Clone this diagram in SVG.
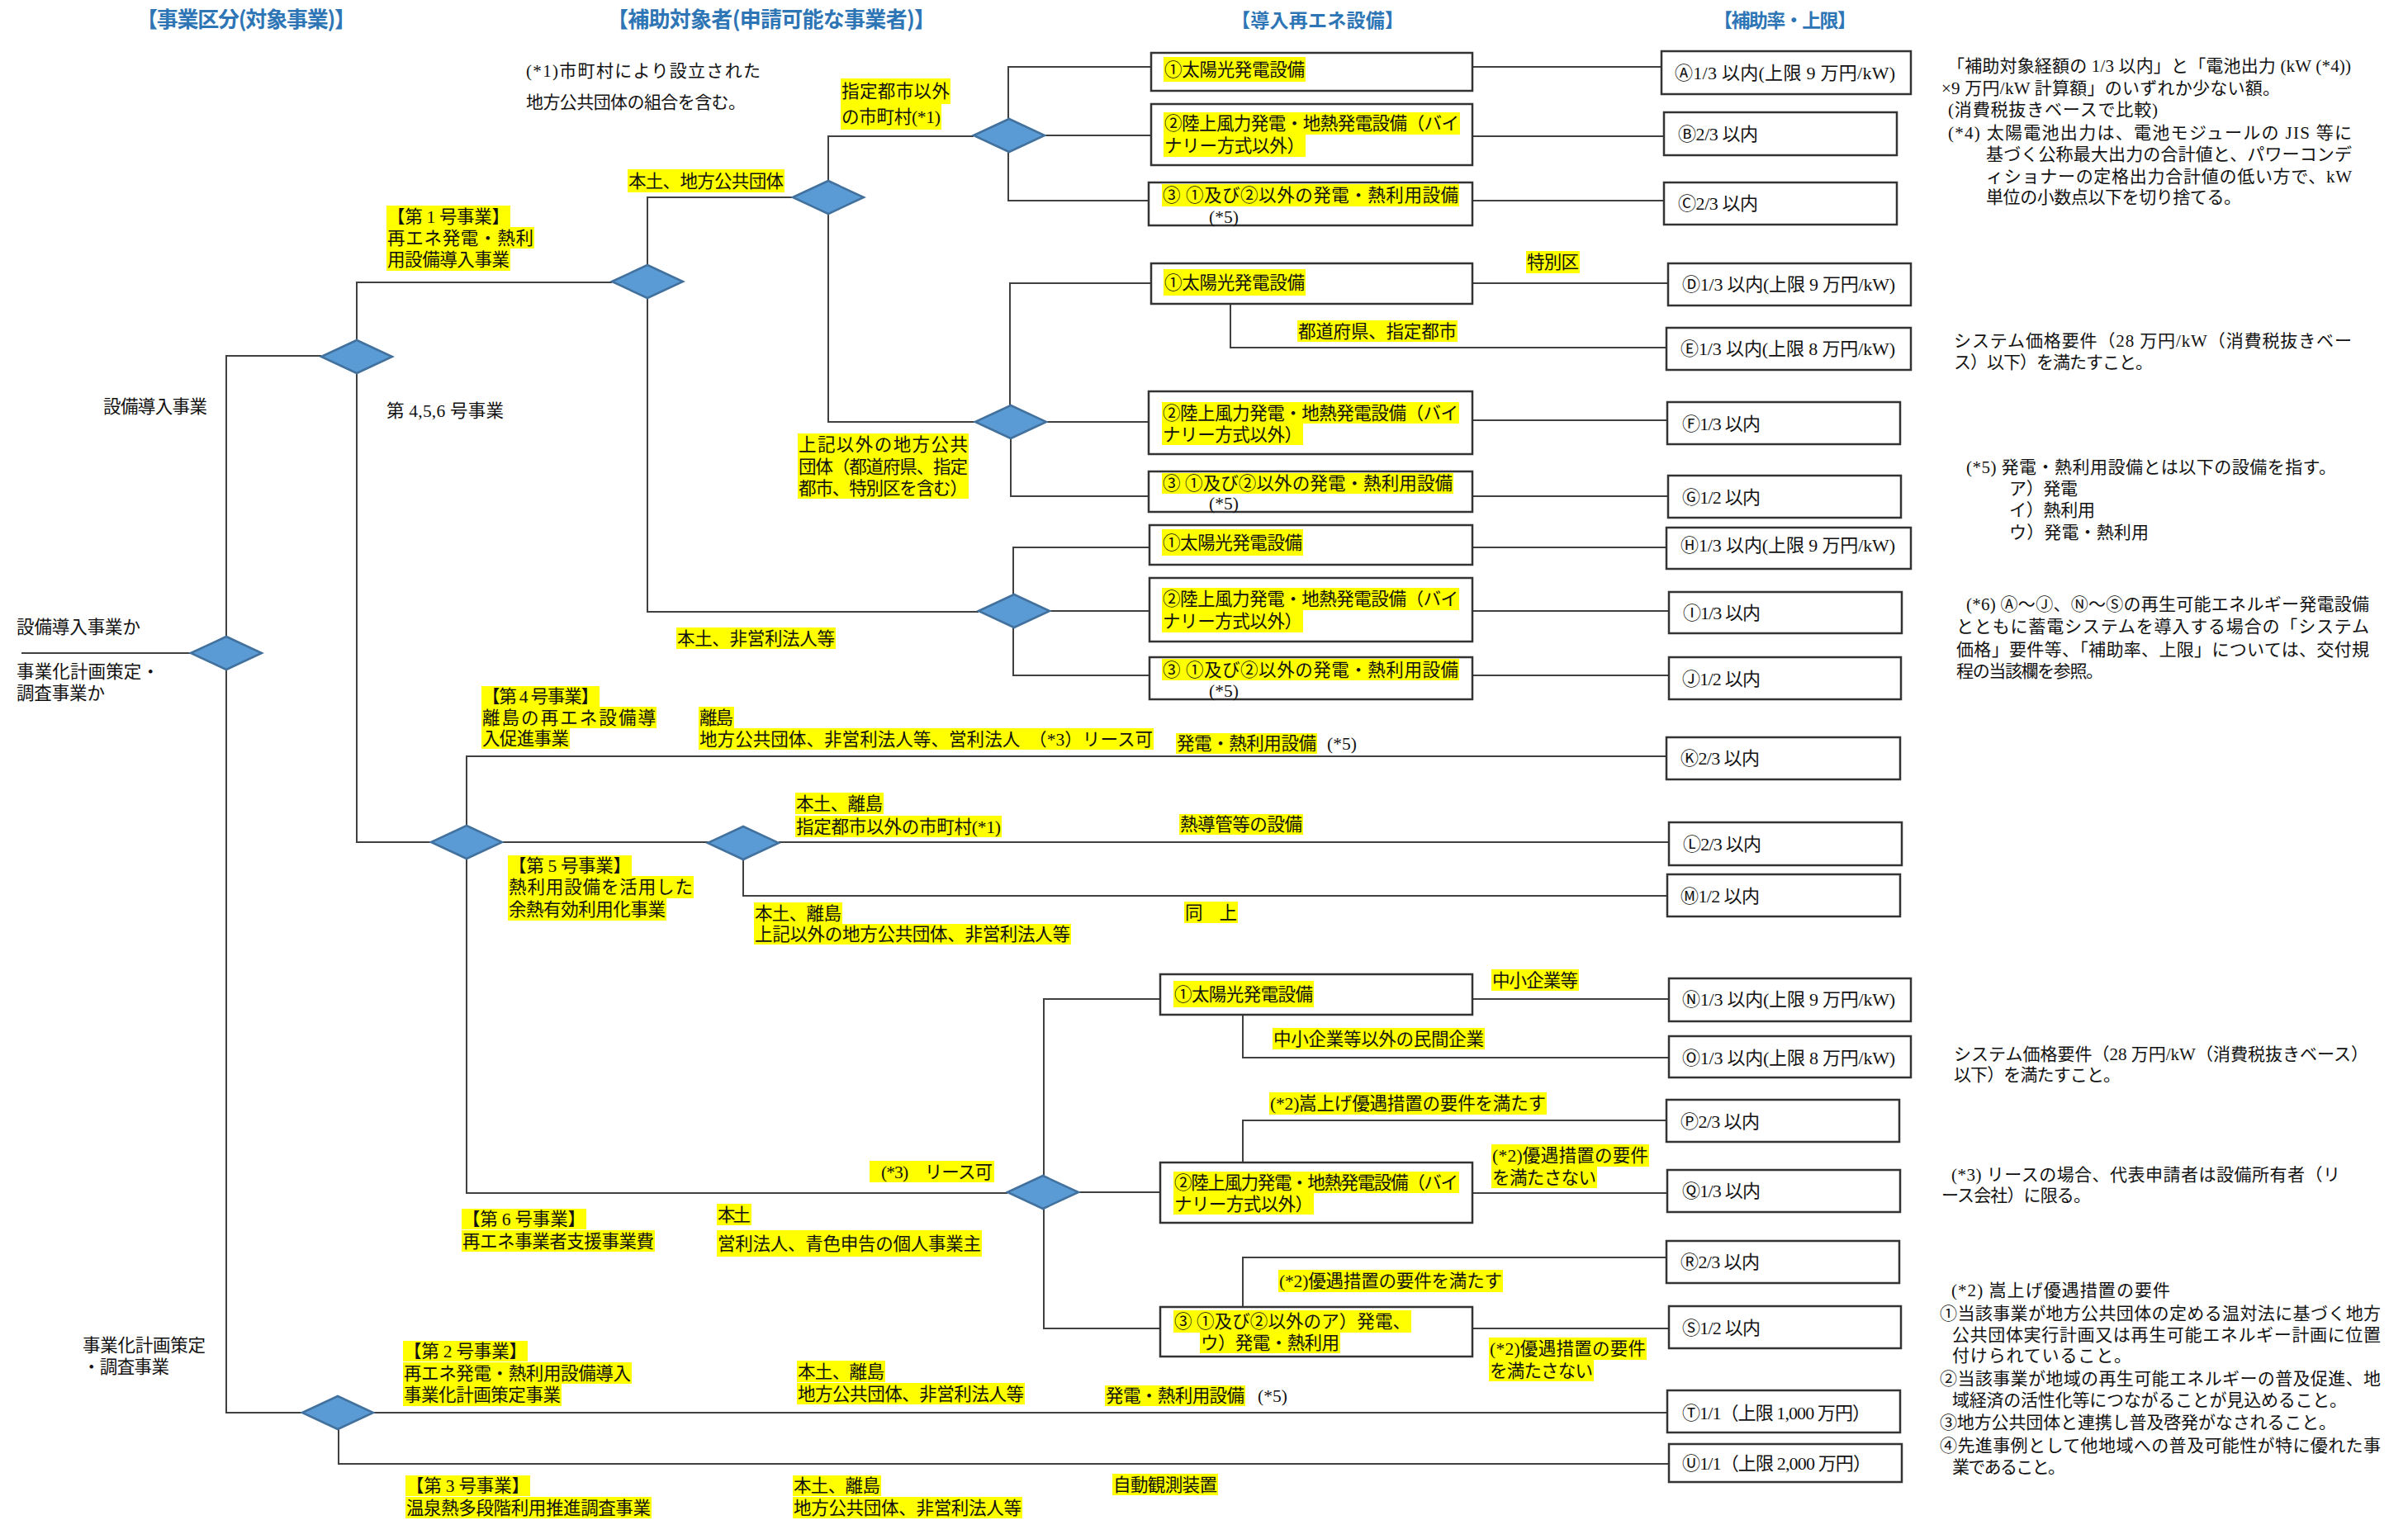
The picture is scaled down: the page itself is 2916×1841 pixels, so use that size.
<svg xmlns="http://www.w3.org/2000/svg" xmlns:xlink="http://www.w3.org/1999/xlink" width="2916" height="1841" viewBox="0 0 2916 1841">
<style>
text{font-family:"Liberation Serif","Noto Sans CJK JP",serif;font-size:21.5px;fill:#111}
.n{font-size:21px}
.b{font-size:22px}
.ttl{font-family:"Noto Sans CJK JP","Liberation Sans",sans-serif;font-weight:bold;font-size:26px;fill:#2E75B6}
.ttl2{font-size:23px}
.h{fill:#FFFF00}
.ln{fill:none;stroke:#404040;stroke-width:2}
.bx{fill:#fff;stroke:#333;stroke-width:2.5}
.dm{fill:#5B9BD5;stroke:#41719C;stroke-width:2.5}
</style>
<defs>
<path id="dia" class="dm" d="M-43 0 L0 -20 L43 0 L0 20 Z"/>
</defs>
<rect width="2916" height="1841" fill="#fff"/>

<g id="titles">
<text class="ttl" x="165" y="33" textLength="266">【事業区分(対象事業)】</text>
<text class="ttl" x="735" y="33" textLength="398">【補助対象者(申請可能な事業者)】</text>
<text class="ttl ttl2" x="1491" y="33" textLength="209">【導入再エネ設備】</text>
<text class="ttl ttl2" x="2075" y="33" textLength="173">【補助率・上限】</text>
</g>

<g id="connectors">
<path class="ln" d="M26 791 H231"/>
<path class="ln" d="M274 771 V431 H389"/>
<path class="ln" d="M274 811 V1711 H366"/>
<path class="ln" d="M432 412 V342 H741"/>
<path class="ln" d="M432 452 V1020 H522"/>
<path class="ln" d="M784 321 V239 H960"/>
<path class="ln" d="M784 361 V741 H1185"/>
<path class="ln" d="M1003 219 V165 H1179"/>
<path class="ln" d="M1003 259 V511 H1181"/>
<path class="ln" d="M1221 145 V81 H1394"/>
<path class="ln" d="M1265 164 H1394"/>
<path class="ln" d="M1221 184 V243 H1391"/>
<path class="ln" d="M1223 492 V343 H1394"/>
<path class="ln" d="M1267 511 H1391"/>
<path class="ln" d="M1224 531 V601 H1391"/>
<path class="ln" d="M1227 720 V663 H1392"/>
<path class="ln" d="M1271 740 H1392"/>
<path class="ln" d="M1227 760 V818 H1392"/>
<path class="ln" d="M1783 81 H2012"/>
<path class="ln" d="M1783 165 H2015"/>
<path class="ln" d="M1783 243 H2015"/>
<path class="ln" d="M1783 343 H2020"/>
<path class="ln" d="M1490 369 V421 H2018"/>
<path class="ln" d="M1783 509 H2019"/>
<path class="ln" d="M1783 601 H2020"/>
<path class="ln" d="M1783 663 H2018"/>
<path class="ln" d="M1783 740 H2021"/>
<path class="ln" d="M1783 818 H2021"/>
<path class="ln" d="M565 1000 V916 H2018"/>
<path class="ln" d="M565 1040 V1445 H1220"/>
<path class="ln" d="M608 1020 H858"/>
<path class="ln" d="M943 1020 H2021"/>
<path class="ln" d="M900 1041 V1085 H2019"/>
<path class="ln" d="M1264 1425 V1210 H1405"/>
<path class="ln" d="M1306 1444 H1405"/>
<path class="ln" d="M1264 1464 V1609 H1405"/>
<path class="ln" d="M1783 1210 H2021"/>
<path class="ln" d="M1505 1229 V1281 H2021"/>
<path class="ln" d="M1505 1408 V1357 H2018"/>
<path class="ln" d="M1783 1445 H2019"/>
<path class="ln" d="M1505 1583 V1523 H2018"/>
<path class="ln" d="M1783 1609 H2021"/>
<path class="ln" d="M452 1711 H2019"/>
<path class="ln" d="M410 1731 V1773 H2021"/>
</g>

<g id="decisions">
<g id="d0"><use xlink:href="#dia" href="#dia" x="274" y="791"/></g>
<g id="d1"><use xlink:href="#dia" href="#dia" x="432" y="432"/></g>
<g id="d1b"><use xlink:href="#dia" href="#dia" x="784" y="341"/></g>
<g id="d2"><use xlink:href="#dia" href="#dia" x="1003" y="239"/></g>
<g id="d2a"><use xlink:href="#dia" href="#dia" x="1222" y="164"/></g>
<g id="d2b"><use xlink:href="#dia" href="#dia" x="1224" y="511"/></g>
<g id="d3c"><use xlink:href="#dia" href="#dia" x="1228" y="740"/></g>
<g id="d4"><use xlink:href="#dia" href="#dia" x="565" y="1020"/></g>
<g id="d5"><use xlink:href="#dia" href="#dia" x="900" y="1021"/></g>
<g id="d6"><use xlink:href="#dia" href="#dia" x="409" y="1711"/></g>
<g id="d7"><use xlink:href="#dia" href="#dia" x="1263" y="1444"/></g>
</g>

<g id="left-labels">
<text class="n" x="637" y="93" textLength="284">(*1)市町村により設立された</text>
<text class="n" x="637" y="131" textLength="266">地方公共団体の組合を含む。</text>
<text x="125" y="500" textLength="126">設備導入事業</text>
<text x="468" y="505" textLength="142">第 4,5,6 号事業</text>
<text x="20" y="767" textLength="150">設備導入事業か</text>
<text x="20" y="821" textLength="173">事業化計画策定・</text>
<text x="20" y="847" textLength="107">調査事業か</text>
<text x="100" y="1637" textLength="149">事業化計画策定</text>
<text x="100" y="1663" textLength="105">・調査事業</text>
</g>

<g id="lbl-jigyo1">
<rect class="h" x="468" y="249" width="150" height="26"/><text x="469" y="270" textLength="148">【第 1 号事業】</text>
<rect class="h" x="468" y="275" width="179" height="26"/><text x="469" y="296" textLength="177">再エネ発電・熱利</text>
<rect class="h" x="468" y="301" width="150" height="27"/><text x="469" y="322" textLength="148">用設備導入事業</text>
</g>
<g id="lbl-honshu-chiho">
<rect class="h" x="760" y="205" width="190" height="28"/><text x="761" y="227" textLength="188">本土、地方公共団体</text>
</g>
<g id="lbl-shitei-igai">
<rect class="h" x="1018" y="95" width="133" height="31"/><text x="1019" y="118" textLength="131">指定都市以外</text>
<rect class="h" x="1018" y="126" width="122" height="31"/><text x="1019" y="149" textLength="120">の市町村(*1)</text>
</g>
<g id="lbl-joki-igai">
<rect class="h" x="966" y="525" width="207" height="27"/><text x="967" y="546" textLength="205">上記以外の地方公共</text>
<rect class="h" x="966" y="552" width="207" height="26"/><text x="967" y="573" textLength="205">団体（都道府県、指定</text>
<rect class="h" x="966" y="578" width="207" height="26"/><text x="967" y="599" textLength="205">都市、特別区を含む）</text>
</g>
<g id="lbl-tokubetsuku"><rect class="h" x="1848" y="304" width="65" height="27"/><text x="1849" y="325" textLength="63">特別区</text></g>
<g id="lbl-todofuken"><rect class="h" x="1571" y="388" width="194" height="26"/><text x="1572" y="409" textLength="192">都道府県、指定都市</text></g>
<g id="lbl-hieiri"><rect class="h" x="819" y="760" width="193" height="26"/><text x="820" y="781" textLength="191">本土、非営利法人等</text></g>
<g id="lbl-jigyo4">
<rect class="h" x="583" y="831" width="143" height="25"/><text x="584" y="851" textLength="141">【第 4 号事業】</text>
<rect class="h" x="583" y="856" width="212" height="26"/><text x="584" y="877" textLength="210">離島の再エネ設備導</text>
<rect class="h" x="583" y="882" width="107" height="25"/><text x="584" y="902" textLength="105">入促進事業</text>
</g>
<g id="lbl-ritou4">
<rect class="h" x="846" y="856" width="43" height="26"/><text x="847" y="877" textLength="41">離島</text>
<rect class="h" x="846" y="882" width="551" height="26"/><text x="847" y="903" textLength="549">地方公共団体、非営利法人等、営利法人　（*3）リース可</text>
</g>
<g id="lbl-hatsuden4">
<rect class="h" x="1424" y="888" width="171" height="25"/><text x="1425" y="908" textLength="169">発電・熱利用設備</text>
<text x="1607" y="908">(*5)</text>
</g>
<g id="lbl-jigyo5">
<rect class="h" x="615" y="1036" width="150" height="25"/><text x="616" y="1056" textLength="148">【第 5 号事業】</text>
<rect class="h" x="615" y="1061" width="225" height="27"/><text x="616" y="1082" textLength="223">熱利用設備を活用した</text>
<rect class="h" x="615" y="1088" width="192" height="27"/><text x="616" y="1109" textLength="190">余熱有効利用化事業</text>
</g>
<g id="lbl-ritou5a">
<rect class="h" x="963" y="960" width="107" height="26"/><text x="964" y="981" textLength="105">本土、離島</text>
<rect class="h" x="963" y="988" width="250" height="26"/><text x="964" y="1009" textLength="248">指定都市以外の市町村(*1)</text>
</g>
<g id="lbl-netsudoukan"><rect class="h" x="1428" y="986" width="150" height="25"/><text x="1429" y="1006" textLength="148">熱導管等の設備</text></g>
<g id="lbl-ritou5b">
<rect class="h" x="913" y="1093" width="107" height="26"/><text x="914" y="1114" textLength="105">本土、離島</text>
<rect class="h" x="913" y="1119" width="384" height="25"/><text x="914" y="1139" textLength="382">上記以外の地方公共団体、非営利法人等</text>
</g>
<g id="lbl-dojo"><rect class="h" x="1434" y="1092" width="65" height="26"/><text x="1435" y="1113" textLength="63">同　上</text></g>
<g id="lbl-chusho"><rect class="h" x="1806" y="1174" width="106" height="26"/><text x="1807" y="1195" textLength="104">中小企業等</text></g>
<g id="lbl-chusho-igai"><rect class="h" x="1541" y="1245" width="257" height="26"/><text x="1542" y="1266" textLength="255">中小企業等以外の民間企業</text></g>
<g id="lbl-kasa-mitasu"><rect class="h" x="1537" y="1323" width="336" height="27"/><text x="1538" y="1344" textLength="334">(*2)嵩上げ優遇措置の要件を満たす</text></g>
<g id="lbl-mitasanai1">
<rect class="h" x="1806" y="1386" width="191" height="27"/><text x="1807" y="1407" textLength="189">(*2)優遇措置の要件</text>
<rect class="h" x="1806" y="1413" width="128" height="26"/><text x="1807" y="1434" textLength="126">を満たさない</text>
</g>
<g id="lbl-lease6"><rect class="h" x="1053" y="1406" width="151" height="26"/><text x="1067" y="1427" textLength="135">(*3)　リース可</text></g>
<g id="lbl-jigyo6">
<rect class="h" x="559" y="1464" width="151" height="25"/><text x="560" y="1484" textLength="149">【第 6 号事業】</text>
<rect class="h" x="559" y="1490" width="234" height="26"/><text x="560" y="1511" textLength="232">再エネ事業者支援事業費</text>
</g>
<g id="lbl-eiri6">
<rect class="h" x="868" y="1458" width="42" height="26"/><text x="869" y="1479" textLength="40">本土</text>
<rect class="h" x="868" y="1490" width="321" height="32"/><text x="869" y="1514" textLength="319">営利法人、青色申告の個人事業主</text>
</g>
<g id="lbl-yugu-mitasu"><rect class="h" x="1548" y="1538" width="272" height="27"/><text x="1549" y="1559" textLength="270">(*2)優遇措置の要件を満たす</text></g>
<g id="lbl-mitasanai2">
<rect class="h" x="1803" y="1620" width="191" height="27"/><text x="1804" y="1641" textLength="189">(*2)優遇措置の要件</text>
<rect class="h" x="1803" y="1647" width="127" height="26"/><text x="1804" y="1668" textLength="125">を満たさない</text>
</g>
<g id="lbl-jigyo2">
<rect class="h" x="488" y="1624" width="151" height="25"/><text x="489" y="1644" textLength="149">【第 2 号事業】</text>
<rect class="h" x="488" y="1650" width="277" height="26"/><text x="489" y="1671" textLength="275">再エネ発電・熱利用設備導入</text>
<rect class="h" x="488" y="1676" width="192" height="27"/><text x="489" y="1697" textLength="190">事業化計画策定事業</text>
</g>
<g id="lbl-ritou2">
<rect class="h" x="965" y="1648" width="107" height="26"/><text x="966" y="1669" textLength="105">本土、離島</text>
<rect class="h" x="965" y="1675" width="276" height="26"/><text x="966" y="1696" textLength="274">地方公共団体、非営利法人等</text>
</g>
<g id="lbl-hatsuden2">
<rect class="h" x="1338" y="1678" width="170" height="25"/><text x="1339" y="1698" textLength="168">発電・熱利用設備</text>
<text x="1523" y="1698">(*5)</text>
</g>
<g id="lbl-jigyo3">
<rect class="h" x="491" y="1787" width="151" height="25"/><text x="492" y="1807" textLength="149">【第 3 号事業】</text>
<rect class="h" x="491" y="1813" width="298" height="26"/><text x="492" y="1834" textLength="296">温泉熱多段階利用推進調査事業</text>
</g>
<g id="lbl-ritou3">
<rect class="h" x="960" y="1787" width="107" height="25"/><text x="961" y="1807" textLength="105">本土、離島</text>
<rect class="h" x="960" y="1813" width="278" height="26"/><text x="961" y="1834" textLength="276">地方公共団体、非営利法人等</text>
</g>
<g id="lbl-kansoku"><rect class="h" x="1347" y="1785" width="128" height="26"/><text x="1348" y="1806" textLength="126">自動観測装置</text></g>

<g id="eq-1a"><rect class="bx" x="1394" y="64" width="389" height="46"/><rect class="h" x="1409" y="69" width="172" height="30"/><text x="1410" y="92" textLength="170">①太陽光発電設備</text></g>
<g id="eq-2a"><rect class="bx" x="1394" y="126" width="389" height="74"/><rect class="h" x="1409" y="136" width="359" height="27"/><text x="1410" y="157" textLength="357">②陸上風力発電・地熱発電設備（バイ</text><rect class="h" x="1409" y="163" width="172" height="27"/><text x="1410" y="184" textLength="170">ナリー方式以外）</text></g>
<g id="eq-3a"><rect class="bx" x="1391" y="221" width="392" height="52"/><rect class="h" x="1407" y="223" width="360" height="27"/><text x="1408" y="244" textLength="358">③ ①及び②以外の発電・熱利用設備</text><text x="1464" y="270">(*5)</text></g>
<g id="eq-1b"><rect class="bx" x="1394" y="319" width="389" height="49"/><rect class="h" x="1409" y="326" width="172" height="32"/><text x="1410" y="350" textLength="170">①太陽光発電設備</text></g>
<g id="eq-2b"><rect class="bx" x="1391" y="474" width="392" height="76"/><rect class="h" x="1407" y="487" width="360" height="26"/><text x="1408" y="508" textLength="358">②陸上風力発電・地熱発電設備（バイ</text><rect class="h" x="1407" y="513" width="171" height="26"/><text x="1408" y="534" textLength="169">ナリー方式以外）</text></g>
<g id="eq-3b"><rect class="bx" x="1391" y="571" width="392" height="49"/><rect class="h" x="1407" y="573" width="353" height="25"/><text x="1408" y="593" textLength="351">③ ①及び②以外の発電・熱利用設備</text><text x="1464" y="617">(*5)</text></g>
<g id="eq-1c"><rect class="bx" x="1392" y="636" width="391" height="48"/><rect class="h" x="1407" y="641" width="171" height="32"/><text x="1408" y="665" textLength="169">①太陽光発電設備</text></g>
<g id="eq-2c"><rect class="bx" x="1392" y="700" width="391" height="77"/><rect class="h" x="1407" y="712" width="360" height="27"/><text x="1408" y="733" textLength="358">②陸上風力発電・地熱発電設備（バイ</text><rect class="h" x="1407" y="739" width="171" height="27"/><text x="1408" y="760" textLength="169">ナリー方式以外）</text></g>
<g id="eq-3c"><rect class="bx" x="1392" y="796" width="391" height="51"/><rect class="h" x="1407" y="798" width="360" height="26"/><text x="1408" y="819" textLength="358">③ ①及び②以外の発電・熱利用設備</text><text x="1464" y="844">(*5)</text></g>
<g id="eq-1d"><rect class="bx" x="1405" y="1180" width="378" height="49"/><rect class="h" x="1421" y="1188" width="170" height="32"/><text x="1422" y="1212" textLength="168">①太陽光発電設備</text></g>
<g id="eq-2d"><rect class="bx" x="1405" y="1408" width="378" height="73"/><rect class="h" x="1421" y="1419" width="346" height="26"/><text x="1422" y="1440" textLength="344">②陸上風力発電・地熱発電設備（バイ</text><rect class="h" x="1421" y="1445" width="170" height="26"/><text x="1422" y="1466" textLength="168">ナリー方式以外）</text></g>
<g id="eq-3d"><rect class="bx" x="1405" y="1583" width="378" height="60"/><rect class="h" x="1421" y="1587" width="288" height="27"/><text x="1422" y="1608" textLength="286">③ ①及び②以外のア）発電、</text><rect class="h" x="1453" y="1614" width="170" height="25"/><text x="1454" y="1634" textLength="168">ウ）発電・熱利用</text></g>

<g id="rate-A"><rect class="bx" x="2012" y="62" width="302" height="52"/><text class="b" x="2028" y="96" textLength="267">Ⓐ1/3 以内(上限 9 万円/kW)</text></g>
<g id="rate-B"><rect class="bx" x="2015" y="136" width="282" height="52"/><text class="b" x="2032" y="170" textLength="97">Ⓑ2/3 以内</text></g>
<g id="rate-C"><rect class="bx" x="2015" y="221" width="282" height="51"/><text class="b" x="2032" y="254" textLength="97">Ⓒ2/3 以内</text></g>
<g id="rate-D"><rect class="bx" x="2020" y="319" width="294" height="51"/><text class="b" x="2037" y="352" textLength="258">Ⓓ1/3 以内(上限 9 万円/kW)</text></g>
<g id="rate-E"><rect class="bx" x="2018" y="397" width="296" height="51"/><text class="b" x="2035" y="430" textLength="260">Ⓔ1/3 以内(上限 8 万円/kW)</text></g>
<g id="rate-F"><rect class="bx" x="2019" y="487" width="282" height="51"/><text class="b" x="2037" y="521" textLength="95">Ⓕ1/3 以内</text></g>
<g id="rate-G"><rect class="bx" x="2020" y="576" width="282" height="51"/><text class="b" x="2037" y="610" textLength="95">Ⓖ1/2 以内</text></g>
<g id="rate-H"><rect class="bx" x="2018" y="639" width="296" height="50"/><text class="b" x="2035" y="668" textLength="260">Ⓗ1/3 以内(上限 9 万円/kW)</text></g>
<g id="rate-I"><rect class="bx" x="2021" y="717" width="282" height="50"/><text class="b" x="2038" y="750" textLength="94">Ⓘ1/3 以内</text></g>
<g id="rate-J"><rect class="bx" x="2021" y="796" width="281" height="51"/><text class="b" x="2037" y="830" textLength="95">Ⓙ1/2 以内</text></g>
<g id="rate-K"><rect class="bx" x="2018" y="893" width="283" height="51"/><text class="b" x="2035" y="926" textLength="96">Ⓚ2/3 以内</text></g>
<g id="rate-L"><rect class="bx" x="2021" y="996" width="282" height="52"/><text class="b" x="2038" y="1030" textLength="95">Ⓛ2/3 以内</text></g>
<g id="rate-M"><rect class="bx" x="2019" y="1059" width="282" height="51"/><text class="b" x="2035" y="1093" textLength="96">Ⓜ1/2 以内</text></g>
<g id="rate-N"><rect class="bx" x="2021" y="1185" width="293" height="52"/><text class="b" x="2037" y="1218" textLength="258">Ⓝ1/3 以内(上限 9 万円/kW)</text></g>
<g id="rate-O"><rect class="bx" x="2021" y="1255" width="293" height="50"/><text class="b" x="2037" y="1289" textLength="258">Ⓞ1/3 以内(上限 8 万円/kW)</text></g>
<g id="rate-P"><rect class="bx" x="2018" y="1332" width="282" height="51"/><text class="b" x="2035" y="1366" textLength="96">Ⓟ2/3 以内</text></g>
<g id="rate-Q"><rect class="bx" x="2019" y="1417" width="282" height="51"/><text class="b" x="2037" y="1450" textLength="95">Ⓠ1/3 以内</text></g>
<g id="rate-R"><rect class="bx" x="2018" y="1503" width="282" height="51"/><text class="b" x="2035" y="1536" textLength="96">Ⓡ2/3 以内</text></g>
<g id="rate-S"><rect class="bx" x="2021" y="1582" width="281" height="51"/><text class="b" x="2037" y="1616" textLength="95">Ⓢ1/2 以内</text></g>
<g id="rate-T"><rect class="bx" x="2019" y="1684" width="282" height="51"/><text class="b" x="2037" y="1719" textLength="228">Ⓣ1/1（上限 1,000 万円）</text></g>
<g id="rate-U"><rect class="bx" x="2021" y="1749" width="282" height="46"/><text class="b" x="2037" y="1780" textLength="229">Ⓤ1/1（上限 2,000 万円）</text></g>

<g id="notes">
<text class="n" x="2358" y="87" textLength="489">「補助対象経額の 1/3 以内」と「電池出力 (kW (*4))</text>
<text class="n" x="2351" y="114" textLength="410">×9 万円/kW 計算額」のいずれか少ない額。</text>
<text class="n" x="2359" y="140" textLength="254">(消費税抜きベースで比較)</text>
<text class="n" x="2359" y="168" textLength="489">(*4) 太陽電池出力は、電池モジュールの JIS 等に</text>
<text class="n" x="2405" y="194" textLength="443">基づく公称最大出力の合計値と、パワーコンデ</text>
<text class="n" x="2405" y="221" textLength="443">ィショナーの定格出力合計値の低い方で、kW</text>
<text class="n" x="2405" y="246" textLength="309">単位の小数点以下を切り捨てる。</text>
<text class="n" x="2366" y="420" textLength="482">システム価格要件（28 万円/kW（消費税抜きベー</text>
<text class="n" x="2366" y="446" textLength="241">ス）以下）を満たすこと。</text>
<text class="n" x="2381" y="573" textLength="448">(*5) 発電・熱利用設備とは以下の設備を指す。</text>
<text class="n" x="2433" y="599" textLength="83">ア）発電</text>
<text class="n" x="2433" y="625" textLength="104">イ）熱利用</text>
<text class="n" x="2433" y="652" textLength="169">ウ）発電・熱利用</text>
<text class="n" x="2381" y="739" textLength="488">(*6) Ⓐ～Ⓙ、Ⓝ～Ⓢの再生可能エネルギー発電設備</text>
<text class="n" x="2369" y="766" textLength="500">とともに蓄電システムを導入する場合の「システム</text>
<text class="n" x="2369" y="794" textLength="500">価格」要件等、「補助率、上限」については、交付規</text>
<text class="n" x="2369" y="820" textLength="178">程の当該欄を参照。</text>
<text class="n" x="2366" y="1284" textLength="502">システム価格要件（28 万円/kW（消費税抜きベース）</text>
<text class="n" x="2366" y="1309" textLength="202">以下）を満たすこと。</text>
<text class="n" x="2363" y="1430" textLength="471">(*3) リースの場合、代表申請者は設備所有者（リ</text>
<text class="n" x="2351" y="1455" textLength="181">ース会社）に限る。</text>
<text class="n" x="2363" y="1570" textLength="265">(*2) 嵩上げ優遇措置の要件</text>
<text class="n" x="2349" y="1598" textLength="534">①当該事業が地方公共団体の定める温対法に基づく地方</text>
<text class="n" x="2364" y="1624" textLength="519">公共団体実行計画又は再生可能エネルギー計画に位置</text>
<text class="n" x="2364" y="1649" textLength="217">付けられていること。</text>
<text class="n" x="2349" y="1677" textLength="534">②当該事業が地域の再生可能エネルギーの普及促進、地</text>
<text class="n" x="2364" y="1703" textLength="478">域経済の活性化等につながることが見込めること。</text>
<text class="n" x="2349" y="1730" textLength="480">③地方公共団体と連携し普及啓発がなされること。</text>
<text class="n" x="2349" y="1758" textLength="534">④先進事例として他地域への普及可能性が特に優れた事</text>
<text class="n" x="2364" y="1784" textLength="137">業であること。</text>
</g>
</svg>
